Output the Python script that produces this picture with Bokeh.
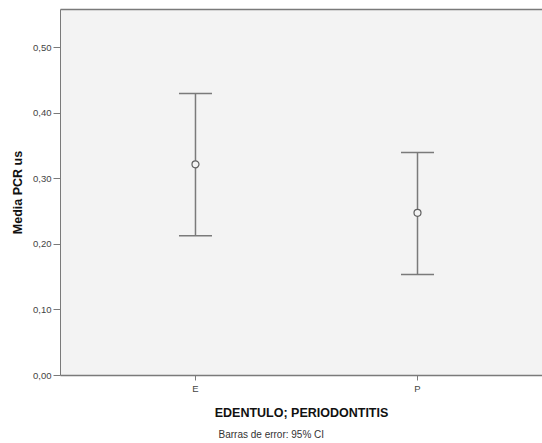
from bokeh.plotting import figure
from bokeh.models import ColumnDataSource, Whisker, TeeHead, FixedTicker, Range1d, LinearAxis, Title
from bokeh.embed import file_html
from bokeh.resources import INLINE

categories = ["E", "P"]
means = [0.322, 0.248]
ci_lower = [0.213, 0.154]
ci_upper = [0.430, 0.340]
y_ticks = [0.0, 0.1, 0.2, 0.3, 0.4, 0.5]
y_tick_labels = ["0,00", "0,10", "0,20", "0,30", "0,40", "0,50"]

xs = [i + 1 for i in range(len(categories))]
src = ColumnDataSource(dict(x=xs, mean=means, lo=ci_lower, hi=ci_upper))

FONT = "Liberation Sans"
GRAY = "#7a7a7a"

p = figure(width=542, height=443, output_backend="svg", toolbar_location=None,
           x_range=Range1d(0.392, 2.563), y_range=Range1d(0, 0.558),
           min_border_left=60, min_border_right=0, min_border_top=9, min_border_bottom=10)
p.background_fill_color = "#f3f3f3"
p.border_fill_color = "white"
p.outline_line_color = None
p.xgrid.visible = False
p.ygrid.visible = False

whisk = Whisker(source=src, base="x", upper="hi", lower="lo",
                line_color=GRAY, line_width=1.5,
                upper_head=TeeHead(size=33, line_color=GRAY, line_width=1.5),
                lower_head=TeeHead(size=33, line_color=GRAY, line_width=1.5))
p.add_layout(whisk)
p.scatter("x", "mean", source=src, size=7, marker="circle",
          fill_color="#f3f3f3", line_color="#606060", line_width=1.2)

# y axis
ya = p.yaxis[0]
ya.ticker = FixedTicker(ticks=y_ticks)
ya.major_label_overrides = {t: l for t, l in zip(y_ticks, y_tick_labels)}
ya.minor_tick_line_color = None
ya.major_tick_out = 7
ya.major_tick_in = 0
ya.axis_line_color = GRAY
ya.major_tick_line_color = GRAY
ya.major_label_text_font = FONT
ya.major_label_text_font_size = "9.5px"
ya.major_label_text_color = "#444444"
ya.major_label_standoff = 2
ya.axis_label = "Media PCR us"
ya.axis_label_text_font = FONT
ya.axis_label_text_font_style = "bold"
ya.axis_label_text_font_size = "12.5px"
ya.axis_label_text_color = "#111111"
ya.axis_label_standoff = 5

# x axis
xa = p.xaxis[0]
xa.ticker = FixedTicker(ticks=xs)
xa.major_label_overrides = {x: c for x, c in zip(xs, categories)}
xa.minor_tick_line_color = None
xa.major_tick_out = 5
xa.major_tick_in = 0
xa.axis_line_color = GRAY
xa.axis_line_width = 1.5
xa.major_tick_line_color = GRAY
xa.major_label_text_font = FONT
xa.major_label_text_font_size = "9.5px"
xa.major_label_text_color = "#444444"
xa.major_label_standoff = 2
xa.axis_label = "EDENTULO; PERIODONTITIS"
xa.axis_label_text_font = FONT
xa.axis_label_text_font_style = "bold"
xa.axis_label_text_font_size = "12.5px"
xa.axis_label_text_color = "#111111"
xa.axis_label_standoff = 9

# top border line
top = LinearAxis(ticker=FixedTicker(ticks=[]), axis_line_color=GRAY, axis_line_width=1.5,
                 major_tick_line_color=None, minor_tick_line_color=None,
                 major_label_text_font_size="0px")
p.add_layout(top, "above")

foot = Title(text="Barras de error: 95% CI", align="left", offset=158,
             text_font=FONT, text_font_size="10px", text_font_style="normal",
             text_color="#333333", standoff=8)
p.add_layout(foot, "below")

open("out.html", "w").write(file_html(p, INLINE))
